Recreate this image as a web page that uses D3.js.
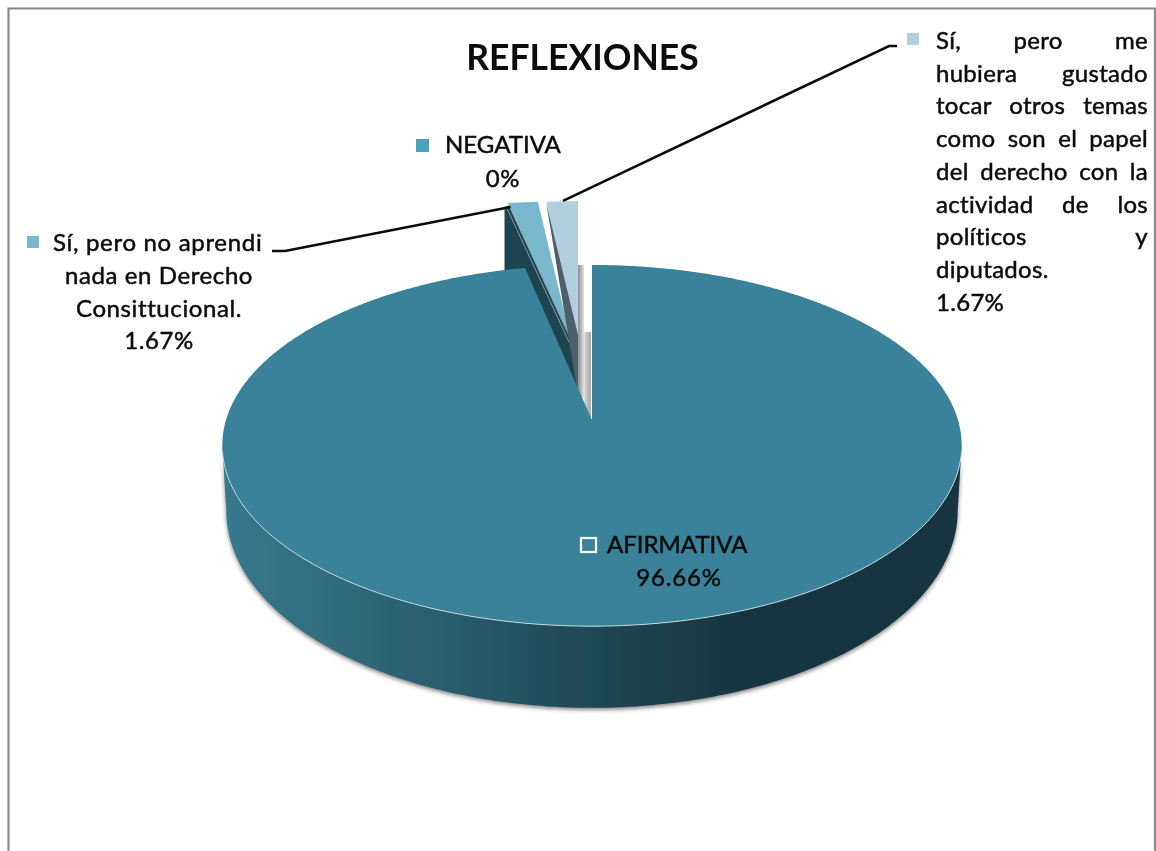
<!DOCTYPE html>
<html><head><meta charset="utf-8">
<script src="https://cdn.jsdelivr.net/npm/d3@7"></script>
<style>html,body{margin:0;padding:0;background:#fff}svg{display:block;filter:blur(0.45px)}text{font-family:Lato,"Open Sans",sans-serif;fill:#0c0c0c}</style>
</head><body><svg id="c" width="1156" height="851"></svg>
<script>
const categories=["AFIRMATIVA","NEGATIVA","Sí, pero no aprendi nada en Derecho Consittucional.","Sí, pero me hubiera gustado tocar otros temas como son el papel del derecho con la actividad de los políticos y diputados."];
const values=[96.66,0,1.67,1.67];
const valueLabels=["96.66%","0%","1.67%","1.67%"];
const sliceColors=["#39829a","#4aa3bd","#79b7cd","#b1cfdc"];
const titleText="REFLEXIONES";
const leftLines=["Sí, pero no aprendi","nada en Derecho","Consittucional.","1.67%"];
const rightLines=["Sí, pero me","hubiera gustado","tocar otros temas","como son el papel","del derecho con la","actividad de los","políticos y","diputados.","1.67%"];

const svg=d3.select("#c"),defs=svg.append("defs");
const arcs=d3.pie().sort(null).value(d=>d)(values);
const K=0.1415;
const topF={cx:592,ay:420,a:366,b:177};
const botF={cx:592,ay:483,a:362,b:193};
const P=(t,f=topF)=>{const u=Math.sin(t),v=Math.cos(t),w=1+K*v;return [f.cx+f.a*u/w,f.ay-f.b*v/w];};
const line=d3.line();
const apex=[topF.cx,topF.ay];
const deg=Math.PI/180;

// frame
svg.append("path").attr("d",line([[8.5,851],[8.5,8.5],[1155,8.5],[1155,851]])).attr("fill","none").attr("stroke","#8a8a8a").attr("stroke-width",2.2);

// gradients
const g=defs.append("linearGradient").attr("id","wall").attr("gradientUnits","userSpaceOnUse").attr("x1",222).attr("x2",962).attr("y1",0).attr("y2",0);
[[0,"#37798e"],[.16,"#2f6b7d"],[.36,"#265767"],[.5,"#1f4755"],[.7,"#18363f"],[1,"#17343f"]].forEach(s=>g.append("stop").attr("offset",s[0]).attr("stop-color",s[1]));
const gs=defs.append("linearGradient").attr("id","strip");
[[0,"#8f8f8f"],[.5,"#b5b5b5"],[1,"#e4e4e4"]].forEach(s=>gs.append("stop").attr("offset",s[0]).attr("stop-color",s[1]));
const gs2=defs.append("linearGradient").attr("id","strip2");
[[0,"#e2e2e2"],[.5,"#bcbcbc"],[1,"#a8a8a8"]].forEach(s=>gs2.append("stop").attr("offset",s[0]).attr("stop-color",s[1]));
const flt=defs.append("filter").attr("id","sh").attr("x","-5%").attr("y","-5%").attr("width","110%").attr("height","112%");
flt.append("feDropShadow").attr("dx",0).attr("dy",2).attr("stdDeviation",2.2).attr("flood-color","#555").attr("flood-opacity",.75);

// outer wall of the main slice
const ths=d3.range(98,262.01,1).map(d=>d*deg);
const wallPts=ths.map(t=>P(t)).concat(ths.slice().reverse().map(t=>P(t,botF)));
svg.append("path").attr("d",line(wallPts)+"Z").attr("fill","url(#wall)").attr("filter","url(#sh)");

// exploded slices
const A=arcs[0],M=arcs[2],L=arcs[3];
const off=(p,dx,dy)=>[p[0]+dx,p[1]+dy];
const mOff=[-20.5,-64],lOff=[-14,-64];
const mL=off(P(M.startAngle),...mOff),mR=off(P(M.endAngle),...mOff),mT=off(apex,...mOff);
const lL=off(P(L.startAngle),...lOff),lR=off(P(L.endAngle),...lOff),lT=off(apex,...lOff);

// inner walls behind the main slice
const wallTop=P(A.endAngle);
const mLi=[mL[0]+3.5,mL[1]-1];
svg.append("path").attr("d",line([[mL[0],mL[1]+3],[mL[0],wallTop[1]+4],[wallTop[0],wallTop[1]+4],[lT[0],lT[1]+39],[mT[0]+1,mT[1]-18],[mLi[0]+2,mLi[1]+2]])+"Z").attr("fill","#1d4450");
// inner strips of the main slice's cut side
const bx=P(0);
svg.append("rect").attr("x",bx[0]-14).attr("y",bx[1]).attr("width",6).attr("height",apex[1]-bx[1]-22).attr("fill","url(#strip)");
svg.append("rect").attr("x",bx[0]-8).attr("y",bx[1]+67).attr("width",7).attr("height",apex[1]-bx[1]-67).attr("fill","url(#strip2)");

// medium slice
svg.append("path").attr("d",line([[mL[0]+1.8,mL[1]+3],[mT[0]-2.5,mT[1]-14]])).attr("stroke","#7f9ca5").attr("stroke-width",1).attr("fill","none");
svg.append("path").attr("d",line([mLi,mR,[mT[0]-1,mT[1]-18]])+"Z").attr("fill",sliceColors[2]);
svg.append("path").attr("d",line([[mLi[0]-.2,mLi[1]],[mT[0]-1.4,mT[1]-18]])).attr("stroke","#a9c6cf").attr("stroke-width",.8).attr("fill","none");

// pale slice
svg.append("path").attr("d",line([[lL[0]+2,lL[1]],lR,[lT[0],lT[1]+20]])+"Z").attr("fill",sliceColors[3]);
svg.append("path").attr("d",line([[lL[0]+2,lL[1]+2],[lT[0],lT[1]-21],[lT[0],lT[1]+39]])+"Z").attr("fill","#4f5f67");

// main slice top
const mainPts=[apex].concat(d3.range(0,A.endAngle,0.5*deg).map(t=>P(t)),[P(A.endAngle)]);
svg.append("path").attr("d",line(mainPts)+"Z").attr("fill",sliceColors[0]);
svg.append("path").attr("d",line(d3.range(100,260.01,1).map(d=>P(d*deg)))).attr("fill","none").attr("stroke","#c4d6dc").attr("stroke-width",1);

// leaders
const lead=[[[272,251],[285,251],[mL[0]+6,mL[1]+3]],[[lR[0]-15,lR[1]],[889,46],[897,46]]];
lead.forEach(d=>svg.append("path").attr("d",line(d)).attr("fill","none").attr("stroke","#0b0b0b").attr("stroke-width",2.6));

// text
const T=(s,x,y,o={})=>svg.append("text").attr("x",x).attr("y",y).attr("font-size",o.size||24).attr("font-weight",o.w||400).attr("text-anchor",o.a||"start").attr("letter-spacing",o.ls||0).attr("stroke","#0c0c0c").attr("stroke-width",o.sw===undefined?.5:o.sw).text(s);
T(titleText,582.5,70,{size:35.5,w:700,a:"middle",sw:0});
const key=(x,y,s,c)=>svg.append("rect").attr("x",x).attr("y",y).attr("width",s).attr("height",s).attr("fill",c);

key(416,139,13,sliceColors[1]);
T(categories[1],445,153);
T(valueLabels[1],503,187,{a:"middle",ls:.7});

key(27,236,12,sliceColors[2]);
T(leftLines[0],53,251,{ls:.68});
leftLines.slice(1).forEach((s,i)=>T(s,159,284+i*32.7,{a:"middle",ls:.6}));

key(907,33,12,sliceColors[3]);
rightLines.forEach((s,i)=>{
  const t=T(s,936,49+i*32.7,{ls:.3});
  const n=s.split(" ").length-1;
  if(n>0){t.attr("word-spacing",(212-t.node().getComputedTextLength())/n);}
});

svg.append("rect").attr("x",581).attr("y",538).attr("width",15).attr("height",14).attr("fill","none").attr("stroke","#fff").attr("stroke-width",2.2);
T(categories[0],607,553);
T(valueLabels[0],679,586,{a:"middle",ls:.8});
</script></body></html>
